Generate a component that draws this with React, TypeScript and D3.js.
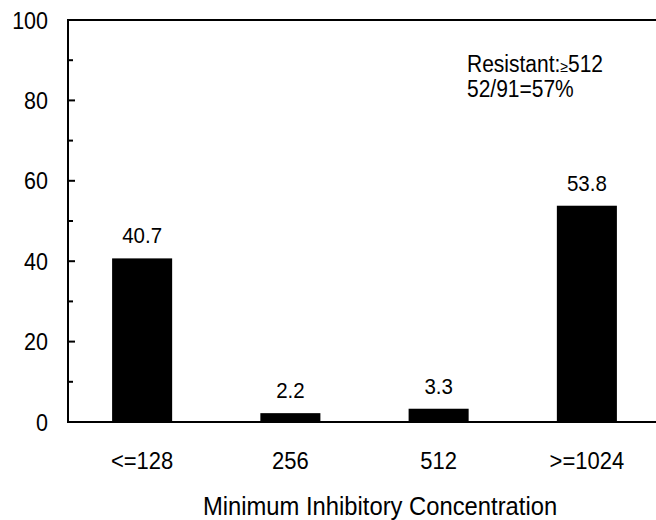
import React from "react";
import * as d3 from "d3";

const categories = ["<=128", "256", "512", ">=1024"];
const values = [40.7, 2.2, 3.3, 53.8];
const yTicks = [0, 20, 40, 60, 80, 100];
const yMinorTicks = [10, 30, 50, 70, 90];
const noteLines = ["Resistant:", "52/91=57%"];

const W = 656;
const H = 520;
const left = 68;
const right = 661;
const top = 20;
const bottom = 422;
const font = "Liberation Sans, Arial, sans-serif";
const stretch = 1.1;

function T(props: {
  x: number;
  y: number;
  size: number;
  anchor?: string;
  children: React.ReactNode;
}) {
  return (
    <text
      transform={`translate(${props.x},${props.y}) scale(1,${stretch})`}
      fontSize={props.size}
      textAnchor={props.anchor || "start"}
      fill="#000"
    >
      {props.children}
    </text>
  );
}

export default function App() {
  const x = d3
    .scaleBand<string>()
    .domain(categories)
    .range([left, right])
    .paddingInner(0.595)
    .paddingOuter(0.2975);
  const y = d3.scaleLinear().domain([0, 100]).range([bottom, top]);

  return (
    <svg
      width={W}
      height={H}
      style={{ position: "absolute", left: 0, top: 0, background: "#fff" }}
      fontFamily={font}
    >
      {categories.map((c, i) => (
        <rect
          key={c}
          x={x(c)}
          y={y(values[i])}
          width={x.bandwidth()}
          height={y(0) - y(values[i])}
          fill="#000"
        />
      ))}
      {categories.map((c, i) => (
        <T
          key={"v" + c}
          x={(x(c) as number) + x.bandwidth() / 2}
          y={y(values[i]) - 15}
          size={20.5}
          anchor="middle"
        >
          {values[i].toFixed(1)}
        </T>
      ))}
      <line x1={left} x2={left} y1={top - 1} y2={bottom + 1} stroke="#000" strokeWidth={2} />
      <line x1={left} x2={W} y1={top} y2={top} stroke="#000" strokeWidth={2} />
      <line x1={left} x2={W} y1={bottom} y2={bottom} stroke="#000" strokeWidth={2} />
      {yTicks.map((t) => (
        <g key={"t" + t}>
          <line x1={left} x2={left + 7} y1={y(t)} y2={y(t)} stroke="#000" strokeWidth={2} />
          <T x={48} y={y(t) + 8.5} size={21.5} anchor="end">
            {t}
          </T>
        </g>
      ))}
      {yMinorTicks.map((t) => (
        <line key={"m" + t} x1={left} x2={left + 5} y1={y(t)} y2={y(t)} stroke="#000" strokeWidth={2} />
      ))}
      {categories.map((c) => (
        <T
          key={"x" + c}
          x={(x(c) as number) + x.bandwidth() / 2}
          y={469}
          size={22}
          anchor="middle"
        >
          {c}
        </T>
      ))}
      <T x={380} y={515} size={23.8} anchor="middle">
        Minimum Inhibitory Concentration
      </T>
      <T x={467} y={72} size={21}>
        {noteLines[0]}
        <tspan fontSize={14}>≥</tspan>
        <tspan>512</tspan>
      </T>
      <T x={467} y={97} size={21}>
        {noteLines[1]}
      </T>
    </svg>
  );
}
